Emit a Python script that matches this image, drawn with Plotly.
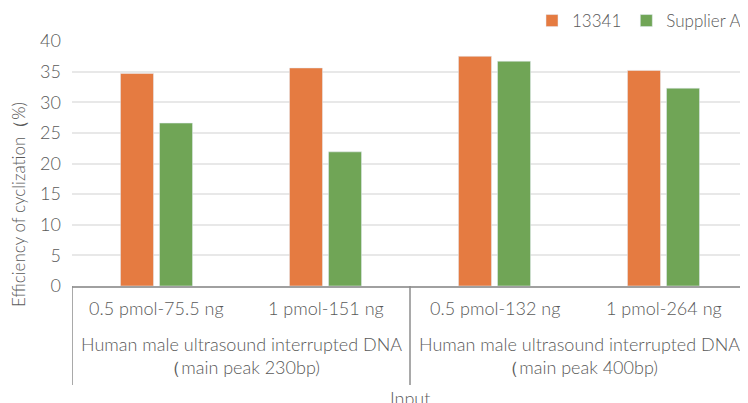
import plotly.graph_objects as go

categories = ["0.5 pmol-75.5 ng", "1 pmol-151 ng", "0.5 pmol-132 ng", "1 pmol-264 ng"]
groups = ["Human male ultrasound interrupted DNA<br>（main peak 230bp)",
          "Human male ultrasound interrupted DNA<br>（main peak 400bp)"]
series_13341 = [34.7, 35.6, 37.5, 35.2]
series_supplier = [26.6, 21.9, 36.7, 32.3]
y_ticks = [0, 5, 10, 15, 20, 25, 30, 35, 40]

FONT = "Lato"
TXT = "#595959"
OFF = 8  # page body margin
W, H = 748 - OFF, 403 - OFF

fig = go.Figure()
fig.add_trace(go.Bar(name="13341", x=categories, y=series_13341, marker_color="#E57B41"))
fig.add_trace(go.Bar(name="Supplier A", x=categories, y=series_supplier, marker_color="#70A556"))

fig.update_layout(
    width=W, height=H,
    margin=dict(l=72 - OFF, r=0, t=41 - OFF, b=H - (286 - OFF), autoexpand=False),
    paper_bgcolor="white", plot_bgcolor="white",
    barmode="group", bargap=0.538, bargroupgap=0.154,
    font=dict(family=FONT, color=TXT, size=17, weight=300),
    showlegend=True,
    legend=dict(orientation="h", xref="container", yref="container",
                x=(746 - OFF) / W, xanchor="right", y=1 - (21 - OFF) / H, yanchor="middle",
                font=dict(size=17, color=TXT), itemwidth=30, traceorder="normal",
                bgcolor="rgba(0,0,0,0)"),
)
fig.update_yaxes(range=[0, 40], tickvals=y_ticks, showgrid=True, gridcolor="#e8e8e8", gridwidth=1.5,
                 zeroline=False, showline=False, tickfont=dict(size=18, color=TXT),
                 ticklabelstandoff=10, automargin=False)
fig.update_xaxes(showticklabels=False, showline=True, linecolor="#a0a0a0", linewidth=1.5,
                 range=[-0.5, 3.5], showgrid=False, automargin=False)

ph = 245.0
def py(px):
    return (286 - px) / ph

for c in categories:
    fig.add_annotation(x=c, xref="x", y=py(308), yref="paper", text=c, showarrow=False,
                       font=dict(size=18, color=TXT), yanchor="middle")
for i, g in enumerate(groups):
    fig.add_annotation(x=0.5 + 2 * i, xref="x", y=py(356), yref="paper", text=g, showarrow=False,
                       font=dict(size=18, color=TXT), yanchor="middle")
for xv in [-0.5, 1.5, 3.5]:
    fig.add_shape(type="line", xref="x", yref="paper", x0=xv, x1=xv, y0=0, y1=py(385),
                  line=dict(color="#8c8c8c", width=1.5))

fig.add_annotation(x=0.5, xref="paper", y=py(398), yref="paper", text="Input", showarrow=False,
                   font=dict(size=18, color=TXT), yanchor="middle")
fig.add_annotation(x=(18 - 72) / 676, xref="paper", y=py(205), yref="paper",
                   text="Efficiency of cyclization（%)", textangle=-90, showarrow=False,
                   font=dict(size=17, color=TXT), xanchor="center", yanchor="middle")

fig.write_html("out.html")
